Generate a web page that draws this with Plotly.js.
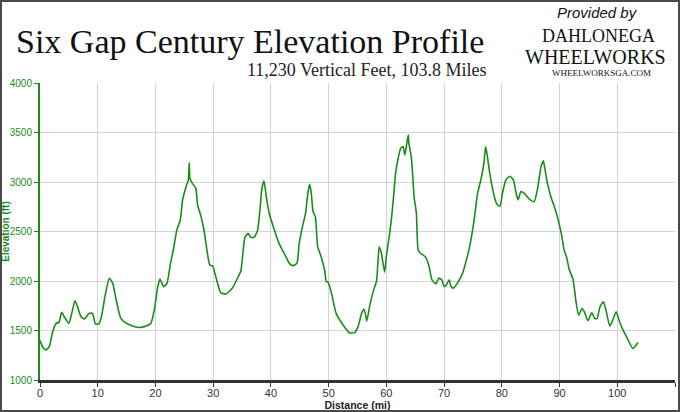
<!DOCTYPE html>
<html>
<head>
<meta charset="utf-8">
<script src="https://cdn.plot.ly/plotly-3.0.1.min.js"></script>
<style>
html,body{margin:0;padding:0;background:#fff;}
#wrap{position:relative;width:680px;height:412px;}
#chart{width:680px;height:412px;}
#frame{position:absolute;left:0;top:0;width:680px;height:412px;box-sizing:border-box;border:2px solid #4a4a4a;pointer-events:none;}
</style>
</head>
<body>
<div id="wrap"><div id="chart"></div><div id="frame"></div></div>
<script>
// Distance (miles) along the route
var distanceMi = [
  0, 0.5, 1.0, 1.6, 2.2, 2.8, 3.3, 3.75, 4.2, 5.0, 5.5, 6.06, 6.5, 7.1, 7.7, 8.5, 9.1, 9.6, 10.2, 10.7,
  11.25, 12.0, 12.6, 13.2, 14.0, 15.2, 16.9, 18.1, 19.2, 19.8, 20.4, 20.8, 21.4, 22.0, 22.6, 23.1, 23.7, 24.3, 24.7, 25.3,
  25.7, 25.85, 25.97, 26.4, 27.0, 27.3, 27.9, 28.4, 29.0, 29.4, 29.9, 30.6, 31.3, 32.2, 33.3, 34.2, 34.8, 35.2, 35.5, 36.05,
  36.5, 37.1, 37.7, 38.1, 38.4, 38.8, 39.2, 39.7, 40.6, 41.4, 42.3, 43.2, 43.8, 44.5, 44.9, 45.4, 46.0, 46.4, 46.7, 47.0,
  47.3, 47.7, 48.1, 48.7, 49.3, 49.6, 49.9, 50.5, 51.3, 52.5, 53.6, 54.5, 55.1, 55.7, 56.1, 56.35, 56.6, 57.2, 57.9, 58.3,
  58.5, 58.75, 59.1, 59.7, 60.0, 60.5, 60.9, 61.2, 61.6, 62.1, 62.5, 62.9, 63.2, 63.5, 63.8, 63.9, 64.3, 64.5, 64.8, 65.2,
  65.5, 65.9, 66.8, 67.4, 67.9, 68.6, 69.1, 69.6, 70.0, 70.4, 70.9, 71.2, 71.6, 72.3, 73.2, 73.9, 74.6, 75.2, 75.8, 76.4,
  76.9, 77.2, 77.5, 77.9, 78.4, 78.8, 79.2, 79.7, 80.1, 80.7, 81.4, 82.0, 82.4, 82.8, 83.3, 83.9, 84.8, 85.6, 86.2, 86.8,
  87.2, 87.5, 87.9, 88.5, 89.1, 89.7, 90.3, 90.8, 91.2, 91.7, 92.3, 92.6, 92.9, 93.3, 93.9, 94.3, 94.9, 95.6, 96.1, 96.5,
  97.0, 97.6, 98.1, 98.7, 99.1, 99.8, 100.4, 101.0, 101.9, 102.7, 103.6
];
// Elevation (ft) at each distance
var elevationFt = [
  1400, 1330, 1303, 1337, 1488, 1572, 1582, 1683, 1640, 1572, 1673, 1800, 1740, 1640, 1616, 1673, 1673, 1566, 1566, 1657,
  1842, 2027, 1976, 1808, 1623, 1566, 1532, 1539, 1572, 1707, 1943, 2020, 1943, 1976, 2178, 2313, 2515, 2616, 2818, 2953,
  3020, 3195, 3037, 2987, 2936, 2768, 2650, 2515, 2279, 2162, 2152, 2010, 1882, 1869, 1926, 2027, 2104, 2313, 2441, 2481,
  2441, 2441, 2515, 2717, 2919, 3013, 2852, 2684, 2515, 2380, 2279, 2178, 2155, 2178, 2380, 2532, 2684, 2886, 2976, 2886,
  2700, 2650, 2347, 2246, 2111, 1993, 1990, 1875, 1673, 1556, 1478, 1478, 1539, 1673, 1714, 1673, 1595, 1774, 1928, 2000,
  2150, 2345, 2290, 2090, 2250, 2450, 2640, 2820, 3089, 3258, 3342, 3359, 3274, 3375, 3476, 3392, 3258, 3123, 2853, 2685,
  2315, 2281, 2241, 2146, 2012, 1971, 2029, 2012, 1944, 1961, 2012, 1944, 1928, 1978, 2079, 2220, 2400, 2615, 2885, 3030,
  3190, 3358, 3260, 3090, 2930, 2830, 2770, 2757, 2885, 3020, 3058, 3022, 2910, 2818, 2902, 2885, 2824, 2801, 2936, 3155,
  3215, 3121, 2986, 2851, 2750, 2632, 2481, 2312, 2245, 2110, 2026, 1908, 1773, 1655, 1722, 1689, 1598, 1679, 1621, 1621,
  1739, 1790, 1689, 1544, 1588, 1689, 1588, 1503, 1402, 1318, 1379
];
var xTicks = [0, 10, 20, 30, 40, 50, 60, 70, 80, 90, 100, 110];
var yTicks = [1000, 1500, 2000, 2500, 3000, 3500, 4000];

var titleText = "Six Gap Century Elevation Profile";
var subtitleText = "11,230 Vertical Feet, 103.8 Miles";

var green = "#1a8c1a";
var narrow = "'Liberation Sans Narrow', 'Liberation Sans', Arial, sans-serif";
var serif = "'Liberation Serif', 'DejaVu Serif', serif";

var trace = {
  x: distanceMi, y: elevationFt, type: "scatter", mode: "lines",
  line: {color: green, width: 1.6, shape: "spline", smoothing: 0.5},
  hoverinfo: "skip"
};

var layout = {
  width: 680, height: 412,
  margin: {l: 40, r: 5, t: 83, b: 32, pad: 0},
  paper_bgcolor: "#fff", plot_bgcolor: "#fff",
  showlegend: false,
  title: {
    text: titleText, x: 16/680, xanchor: "left", y: 1 - 41/412, yanchor: "middle",
    font: {family: serif, size: 34, color: "#111"}
  },
  xaxis: {
    range: [0, 110], tickvals: xTicks, ticktext: xTicks.map(String),
    showgrid: true, gridcolor: "#d4d4d4", gridwidth: 1, zeroline: false,
    showline: true, linecolor: "#333", linewidth: 2.5,
    ticks: "outside", ticklen: 4, tickcolor: "#333", tickwidth: 1,
    ticklabelstandoff: -3,
    tickfont: {family: narrow, size: 11, color: "#333"},
    title: {text: "<b>Distance (mi)</b>", font: {family: "'Liberation Sans', Arial, sans-serif", size: 10.5, color: "#222"}, standoff: 0}
  },
  yaxis: {
    range: [1000, 4000], tickvals: yTicks, ticktext: yTicks.map(String),
    showgrid: true, gridcolor: "#d4d4d4", gridwidth: 1, zeroline: false,
    showline: true, linecolor: green, linewidth: 2,
    ticks: "outside", ticklen: 4, tickcolor: green, tickwidth: 1,
    tickfont: {family: narrow, size: 10, color: green},
    title: {text: "<b>Elevation (ft)</b>", font: {family: "'Liberation Sans', Arial, sans-serif", size: 10, color: green}, standoff: 0}
  },
  annotations: [
    {text: subtitleText, xref: "paper", yref: "paper", x: (488-40)/635, y: (380-70)/297, xanchor: "right", yanchor: "middle",
     showarrow: false, font: {family: serif, size: 18, color: "#222"}},
    {text: "<i>Provided by</i>", xref: "paper", yref: "paper", x: (597-40)/635, y: (380-12)/297, xanchor: "center", yanchor: "middle",
     showarrow: false, font: {family: "'Liberation Sans', 'Open Sans', sans-serif", size: 15, color: "#111"}},
    {text: "DAHLONEGA", xref: "paper", yref: "paper", x: (598-40)/635, y: (380-36)/297, xanchor: "center", yanchor: "middle",
     showarrow: false, font: {family: serif, size: 18, color: "#111"}},
    {text: "WHEELWORKS", xref: "paper", yref: "paper", x: (595-40)/635, y: (380-57)/297, xanchor: "center", yanchor: "middle",
     showarrow: false, font: {family: serif, size: 20, color: "#111"}},
    {text: "WHEELWORKSGA.COM", xref: "paper", yref: "paper", x: (601-40)/635, y: (380-73)/297, xanchor: "center", yanchor: "middle",
     showarrow: false, font: {family: serif, size: 9, color: "#111"}}
  ]
};

Plotly.newPlot("chart", [trace], layout, {staticPlot: true, displayModeBar: false});
</script>
</body>
</html>
